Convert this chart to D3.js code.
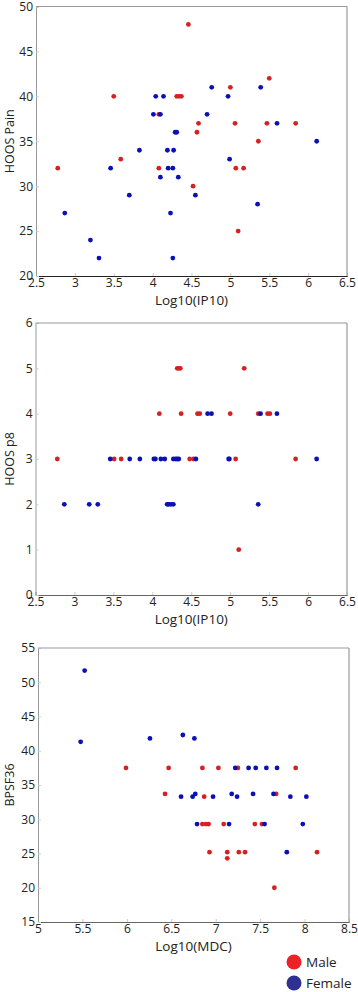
<!DOCTYPE html>
<html>
<head>
<meta charset="utf-8">
<script src="https://cdn.jsdelivr.net/npm/d3@7"></script>
<style>
  body { margin: 0; background: #fff; }
  text { font-family: "Open Sans", "Noto Sans", sans-serif; fill: #222; }
</style>
</head>
<body>
<svg width="358" height="992"></svg>
<script>
// panel 1: HOOS Pain vs Log10(IP10)
var painMale = [[2.78,32],[3.50,40],[3.59,33],[4.08,32],[4.08,38],[4.31,40],[4.34,40],[4.37,40],
  [4.46,48],[4.52,30],[4.57,36],[4.59,37],[5.0,41],[5.06,37],[5.07,32],[5.17,32],[5.10,25],
  [5.36,35],[5.47,37],[5.50,42],[5.84,37]];
var painFemale = [[2.87,27],[3.20,24],[3.31,22],[3.46,32],[3.70,29],[3.83,34],[4.01,38],[4.04,40],
  [4.10,38],[4.10,31],[4.14,40],[4.19,34],[4.20,32],[4.23,27],[4.26,22],[4.27,34],[4.26,32],
  [4.29,36],[4.31,36],[4.33,31],[4.55,29],[4.70,38],[4.76,41],[4.97,40],[4.99,33],[5.35,28],
  [5.39,41],[5.60,37],[6.11,35]];

// panel 2: HOOS p8 vs Log10(IP10)
var p8Male = [[2.78,3],[3.51,3],[3.60,3],[4.09,4],[4.32,5],[4.34,5],[4.36,5],[4.37,4],[4.48,3],
  [4.53,3],[4.58,4],[4.61,4],[5.0,4],[5.07,3],[5.11,1],[5.18,5],[5.36,4],[5.48,4],[5.51,4],[5.84,3]];
var p8Female = [[2.87,2],[3.19,2],[3.30,2],[3.46,3],[3.71,3],[3.84,3],[4.02,3],[4.04,3],[4.11,3],
  [4.16,3],[4.19,2],[4.21,2],[4.24,2],[4.27,2],[4.27,3],[4.30,3],[4.32,3],[4.34,3],[4.56,3],
  [4.71,4],[4.76,4],[4.98,3],[4.99,3],[5.36,2],[5.39,4],[5.60,4],[6.11,3]];

// panel 3: BPSF36 vs Log10(MDC)
var bpMale = [[5.99,37.5],[6.43,33.7],[6.47,37.5],[6.85,37.5],[6.85,29.3],[6.87,33.3],[6.89,29.3],
  [6.92,29.3],[6.93,25.2],[7.03,37.5],[7.09,29.3],[7.13,25.2],[7.13,24.3],[7.25,37.5],[7.26,25.2],
  [7.33,25.2],[7.44,29.3],[7.52,29.3],[7.66,20],[7.68,33.7],[7.90,37.5],[8.14,25.2]];
var bpFemale = [[5.525,51.7],[5.48,41.3],[6.26,41.8],[6.63,42.3],[6.76,41.8],[6.61,33.3],[6.74,33.3],
  [6.77,33.7],[6.79,29.3],[6.97,33.3],[7.15,29.3],[7.18,33.7],[7.22,37.5],[7.24,33.3],[7.37,37.5],
  [7.42,33.7],[7.45,37.5],[7.55,29.3],[7.57,37.5],[7.65,33.7],[7.69,37.5],[7.80,25.2],[7.84,33.3],
  [7.98,29.3],[8.02,33.3]];

var ipTicks = [2.5,3,3.5,4,4.5,5,5.5,6,6.5];
var mdcTicks = [5,5.5,6,6.5,7,7.5,8,8.5];
var painTicks = [20,25,30,35,40,45,50];
var p8Ticks = [0,1,2,3,4,5,6];
var bpTicks = [15,20,25,30,35,40,45,50,55];
var legendLabels = ["Male", "Female"];

var red = "#d42222", blue = "#0a0fb6";
var svg = d3.select("svg");

function panel(o) {
  var x = d3.scaleLinear().domain(d3.extent(o.xt)).range([o.l, o.r]);
  var y = d3.scaleLinear().domain(d3.extent(o.yt)).range([o.b, o.t]);
  var g = svg.append("g");

  g.append("g").attr("transform", "translate(0," + o.b + ")")
    .call(d3.axisBottom(x).tickValues(o.xt).tickFormat(d3.format("")).tickSize(-3).tickPadding(2))
    .call(s => s.select(".domain").attr("stroke", o.bottomCol))
    .call(s => s.selectAll(".tick line").attr("stroke", "#ccc"))
    .call(s => s.selectAll(".tick text").attr("font-size", 12).attr("font-family", "Open Sans").attr("fill", "#222"));
  g.append("g").attr("transform", "translate(" + o.l + ",0)")
    .call(d3.axisLeft(y).tickValues(o.yt).tickFormat(d3.format("")).tickSize(-3).tickPadding(3))
    .call(s => s.select(".domain").attr("stroke", "#999"))
    .call(s => s.selectAll(".tick line").attr("stroke", "#ccc"))
    .call(s => s.selectAll(".tick text").attr("font-size", 12).attr("font-family", "Open Sans").attr("fill", "#222"));
  g.append("line").attr("x1", o.l).attr("x2", o.r).attr("y1", o.t).attr("y2", o.t)
    .attr("stroke", "#999").attr("stroke-width", 1.2);
  g.append("line").attr("x1", o.r).attr("x2", o.r).attr("y1", o.t).attr("y2", o.b)
    .attr("stroke", "#999").attr("stroke-width", 1.2);

  g.append("text").attr("x", (o.l + o.r) / 2).attr("y", o.b + 29)
    .attr("text-anchor", "middle").attr("font-size", 13.5).text(o.xl);
  g.append("text").attr("transform", "translate(13.5," + (o.t + o.b) / 2 + ") rotate(-90)")
    .attr("text-anchor", "middle").attr("font-size", 12.5).text(o.yl);

  [[o.male, red], [o.female, blue]].forEach(function(s) {
    g.append("g").selectAll("circle").data(s[0]).enter().append("circle")
      .attr("cx", d => x(d[0])).attr("cy", d => y(d[1])).attr("r", 2.4).attr("fill", s[1]);
  });
}

panel({l: 36, r: 347, t: 6.5, b: 276, xt: ipTicks, yt: painTicks, male: painMale, female: painFemale,
  xl: "Log10(IP10)", yl: "HOOS Pain", bottomCol: "#222"});
panel({l: 35.5, r: 347, t: 323, b: 595, xt: ipTicks, yt: p8Ticks, male: p8Male, female: p8Female,
  xl: "Log10(IP10)", yl: "HOOS p8", bottomCol: "#666"});
panel({l: 38, r: 349, t: 648, b: 922, xt: mdcTicks, yt: bpTicks, male: bpMale, female: bpFemale,
  xl: "Log10(MDC)", yl: "BPSF36", bottomCol: "#666"});

var leg = svg.append("g");
leg.selectAll("circle").data(legendLabels).enter().append("circle")
  .attr("cx", 294).attr("cy", (d, i) => 962 + i * 21).attr("r", 7.5)
  .attr("fill", (d, i) => i ? "#2e3192" : "#ec2227");
leg.selectAll("text").data(legendLabels).enter().append("text")
  .attr("x", 306).attr("y", (d, i) => 967 + i * 21).attr("font-size", 13.5).text(d => d);
</script>
</body>
</html>
